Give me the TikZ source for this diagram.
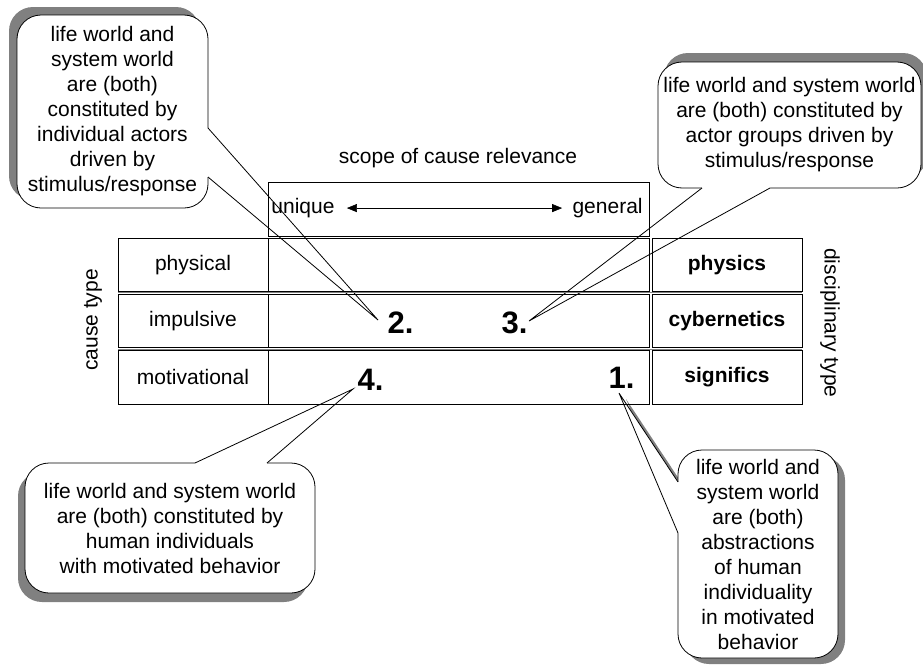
\documentclass[tikz,border=0pt]{standalone}
\usepackage{fontspec}
\setmainfont{Liberation Sans}
\usetikzlibrary{shadows,arrows.meta,calc}
\definecolor{shadowgray}{gray}{0.5}

\begin{document}
\begin{tikzpicture}[x=1pt, y=-1pt, line width=.8pt,
  every node/.style={font=\fontsize{21}{25}\selectfont},
  bubble/.style={draw, fill=white, rounded corners=24pt, align=center, inner sep=0pt},
  cell/.style={draw, inner sep=0pt, minimum height=53.5pt},
  num/.style={font=\fontsize{31}{31}\selectfont\bfseries, inner sep=0pt}]
  \useasboundingbox (0,0) rectangle (923,664);

  % callouts
  \coordinate (t2) at (378,320); \coordinate (p2a) at (208,128); \coordinate (p2b) at (208,177);
  \node[bubble, minimum width=191pt, minimum height=193pt,
    general shadow={fill=shadowgray, shadow xshift=-8pt, shadow yshift=8pt}] (b2) at (112.5,111.5)
    {life world and\\system world\\are (both)\\constituted by\\individual actors\\driven by\\stimulus/response};
  \fill[white] ($(p2a)+(-3,0)$) -- (p2a) -- (t2) -- (p2b) -- ($(p2b)+(-3,0)$) -- cycle;
  \draw (p2a) -- (t2) -- (p2b);

  \coordinate (t3) at (529,321); \coordinate (p3a) at (702,188); \coordinate (p3b) at (770,188);
  \node[bubble, minimum width=263pt, minimum height=126pt,
    general shadow={fill=shadowgray, shadow xshift=6pt, shadow yshift=9pt}] (b3) at (789.5,125)
    {life world and system world\\are (both) constituted by\\actor groups driven by\\stimulus/response};
  \fill[white] ($(p3a)+(0,-3)$) -- (p3a) -- (t3) -- (p3b) -- ($(p3b)+(0,-3)$) -- cycle;
  \draw (p3a) -- (t3) -- (p3b);

  \coordinate (t4) at (353,389); \coordinate (p4a) at (195,463); \coordinate (p4b) at (267,463);
  \node[bubble, minimum width=290pt, minimum height=130pt,
    general shadow={fill=shadowgray, shadow xshift=-7pt, shadow yshift=-9pt}] (b4) at (170,528)
    {life world and system world\\are (both) constituted by\\human individuals\\with motivated behavior};
  \fill[white] ($(p4a)+(0,3)$) -- (p4a) -- (t4) -- (p4b) -- ($(p4b)+(0,3)$) -- cycle;
  \draw (p4a) -- (t4) -- (p4b);

  \coordinate (t1) at (619,393); \coordinate (p1a) at (678,482); \coordinate (p1b) at (678,533);
  \fill[shadowgray] ($(p1a)+(7,6)$) -- ($(t1)+(7,6)$) -- ($(p1b)+(7,6)$) -- cycle;
  \node[bubble, minimum width=160pt, minimum height=208pt,
    general shadow={fill=shadowgray, shadow xshift=7pt, shadow yshift=-6pt}] (b1) at (758,554)
    {life world and\\system world\\are (both)\\abstractions\\of human\\individuality\\in motivated\\behavior};
  \fill[white] ($(p1a)+(3,0)$) -- (p1a) -- (t1) -- (p1b) -- ($(p1b)+(3,0)$) -- cycle;
  \draw (p1a) -- (t1) -- (p1b);

  % scope of cause relevance
  \node (scopelbl) at (458,158) {scope of cause relevance};
  \node[draw, minimum width=381pt, minimum height=54pt, inner sep=0pt] (scope) at (458.5,209) {};
  \node[anchor=base west, inner sep=0pt] (uq) at (271,213.5) {unique};
  \node[anchor=base east, inner sep=0pt] (gen) at (643,213.5) {general};
  \draw[line width=.6pt, {Triangle[length=10pt,width=8pt]}-{Triangle[length=10pt,width=8pt]},
    shorten <=12pt, shorten >=10pt] (uq.east) -- (gen.west);

  % table
  \draw[shadowgray] (118,292.75) -- (802,292.75) (118,349) -- (802,349);
  \foreach \y/\l/\r [count=\i] in {264.75/physical/physics, 320.75/impulsive/cybernetics, 377.25/motivational/significs} {
    \node[cell, minimum width=150pt] (ct\i) at (193,\y) {\l};
    \node[cell, minimum width=381pt] (mid\i) at (458.5,\y) {};
    \node[cell, minimum width=150pt] (dt\i) at (727,\y) {\textbf{\r}};
  }
  \node[rotate=90] (ctype) at (93,320) {cause type};
  \node[rotate=-90] (dtype) at (830,323) {disciplinary type};

  % positions
  \node[num] (n2) at (400.5,323) {2.};
  \node[num] (n3) at (514.5,323) {3.};
  \node[num] (n4) at (370.5,380) {4.};
  \node[num] (n1) at (621.5,378) {1.};
\end{tikzpicture}
\end{document}
